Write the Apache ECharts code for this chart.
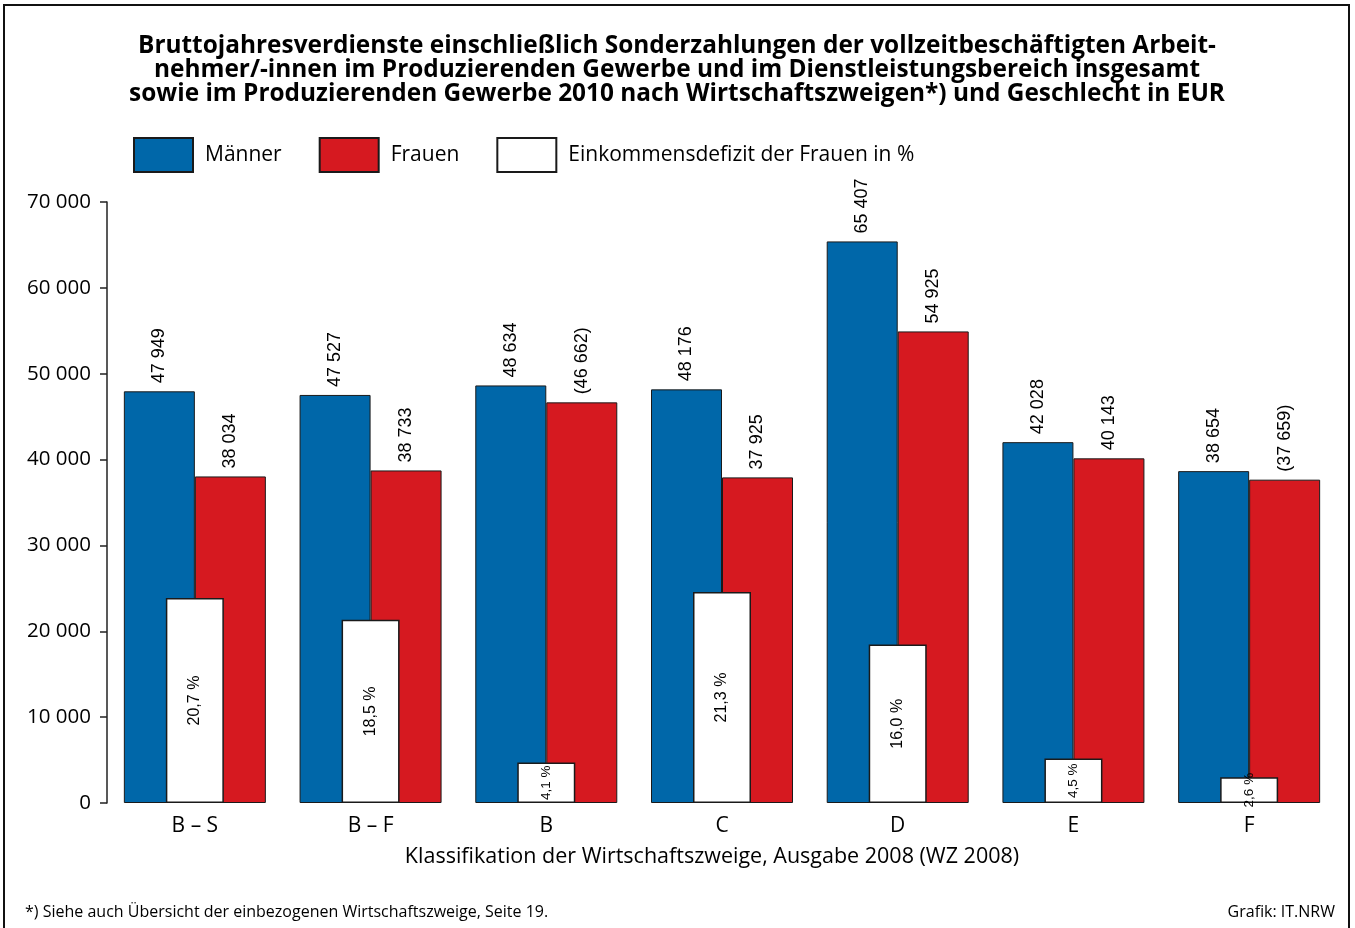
<!DOCTYPE html>
<html>
<head>
<meta charset="utf-8">
<script src="https://cdn.jsdelivr.net/npm/echarts@6/dist/echarts.min.js"></script>
<style>
html,body{margin:0;padding:0;background:#fff;}
#chart{width:1355px;height:928px;}
</style>
</head>
<body>
<div id="chart"></div>
<script>
const categories = ['B – S', 'B – F', 'B', 'C', 'D', 'E', 'F'];
const men = [47949, 47527, 48634, 48176, 65407, 42028, 38654];
const women = [38034, 38733, 46662, 37925, 54925, 40143, 37659];
const womenInBrackets = [false, false, true, false, false, false, true];
const deficitPct = [20.7, 18.5, 4.1, 21.3, 16.0, 4.5, 2.6];
const yTicks = [0, 10000, 20000, 30000, 40000, 50000, 60000, 70000];

const FONT = '"Open Sans", "DejaVu Sans", sans-serif';
const LFONT = '"Liberation Sans", Arial, sans-serif';
const BLUE = '#0067a9';
const RED = '#d61920';

function fmt(v) {
  return String(v).replace(/\B(?=(\d{3})+(?!\d))/g, ' ');
}

const chart = echarts.init(document.getElementById('chart'), null, {renderer: 'canvas'});

const option = {
  backgroundColor: '#fff',
  animation: false,
  legend: {
    top: 132,
    left: 128,
    itemWidth: 59,
    itemHeight: 34,
    itemGap: 37,
    selectedMode: false,
    icon: 'rect',
    textStyle: {fontFamily: FONT, fontSize: 21, color: '#000', padding: [0, 0, 0, 7]},
    data: ['Männer', 'Frauen', 'Einkommensdefizit der Frauen in %']
  },
  grid: {left: 107, right: 18, top: 202, bottom: 125, containLabel: false},
  xAxis: [
    {
      type: 'category',
      data: categories,
      axisLine: {show: false},
      axisTick: {show: false},
      axisLabel: {fontFamily: FONT, fontSize: 21, color: '#000', margin: 13},
      name: 'Klassifikation der Wirtschaftszweige, Ausgabe 2008 (WZ 2008)',
      nameLocation: 'middle',
      nameGap: 43,
      nameTextStyle: {fontFamily: FONT, fontSize: 21.5, color: '#000', verticalAlign: 'top', padding: [0, 20, 0, 0]}
    },
    {
      type: 'category',
      data: categories,
      show: false
    }
  ],
  yAxis: [
    {
      type: 'value',
      min: 0,
      max: 70000,
      interval: 10000,
      axisLine: {show: true, lineStyle: {color: '#222', width: 1.5}},
      axisTick: {show: true, length: 7, lineStyle: {color: '#222', width: 1.5}},
      splitLine: {show: false},
      axisLabel: {
        fontFamily: FONT, fontSize: 20.5, color: '#000', margin: 16,
        formatter: function (v) { return yTicks.indexOf(v) >= 0 ? fmt(v) : ''; }
      }
    },
    {
      type: 'value',
      min: 0,
      max: 60.7,
      show: false,
      splitLine: {show: false}
    }
  ],
  series: [
    {
      name: 'Männer',
      type: 'bar',
      data: men,
      barWidth: 71,
      barGap: '0%',
      itemStyle: {color: BLUE, borderColor: '#1a1a1a', borderWidth: 1},
      label: {
        show: true, position: 'top', rotate: 90, distance: 8, align: 'left', verticalAlign: 'middle',
        fontFamily: LFONT, fontSize: 18, color: '#000',
        formatter: function (p) { return fmt(p.value); }
      },
      z: 2
    },
    {
      name: 'Frauen',
      type: 'bar',
      data: women,
      barWidth: 71,
      barGap: '0%',
      itemStyle: {color: RED, borderColor: '#1a1a1a', borderWidth: 1},
      label: {
        show: true, position: 'top', rotate: 90, distance: 8, align: 'left', verticalAlign: 'middle',
        fontFamily: LFONT, fontSize: 18, color: '#000',
        formatter: function (p) {
          const s = fmt(p.value);
          return womenInBrackets[p.dataIndex] ? '(' + s + ')' : s;
        }
      },
      z: 2
    },
    {
      name: 'Einkommensdefizit der Frauen in %',
      type: 'bar',
      xAxisIndex: 1,
      yAxisIndex: 1,
      data: deficitPct.map(function (v) {
        return {
          value: v,
          label: {fontSize: v < 10 ? 13.5 : 16}
        };
      }),
      barWidth: 58,
      itemStyle: {color: '#fff', borderColor: '#1a1a1a', borderWidth: 1.5},
      label: {
        show: true, position: 'inside', rotate: 90,
        fontFamily: LFONT, color: '#000',
        formatter: function (p) { return p.value.toFixed(1).replace('.', ',') + ' %'; }
      },
      z: 5
    }
  ],
  graphic: [
    {
      type: 'rect',
      shape: {x: 4, y: 5, width: 1345, height: 930},
      style: {fill: null, stroke: '#111', lineWidth: 2},
      silent: true
    },
    {
      type: 'text',
      x: 677,
      y: 34,
      style: {
        text: 'Bruttojahresverdienste einschließlich Sonderzahlungen der vollzeitbeschäftigten Arbeit-\nnehmer/-innen im Produzierenden Gewerbe und im Dienstleistungsbereich insgesamt\nsowie im Produzierenden Gewerbe 2010 nach Wirtschaftszweigen*) und Geschlecht in EUR',
        font: 'bold 24.4px ' + FONT,
        lineHeight: 24,
        align: 'center',
        verticalAlign: 'top',
        fill: '#000'
      }
    },
    {
      type: 'text',
      x: 25,
      y: 912,
      style: {text: '*) Siehe auch Übersicht der einbezogenen Wirtschaftszweige, Seite 19.', font: '16px ' + FONT, fill: '#000', verticalAlign: 'middle'}
    },
    {
      type: 'text',
      x: 1335,
      y: 912,
      style: {text: 'Grafik: IT.NRW', font: '16px ' + FONT, fill: '#000', align: 'right', verticalAlign: 'middle'}
    }
  ]
};

chart.setOption(option);
</script>
</body>
</html>
